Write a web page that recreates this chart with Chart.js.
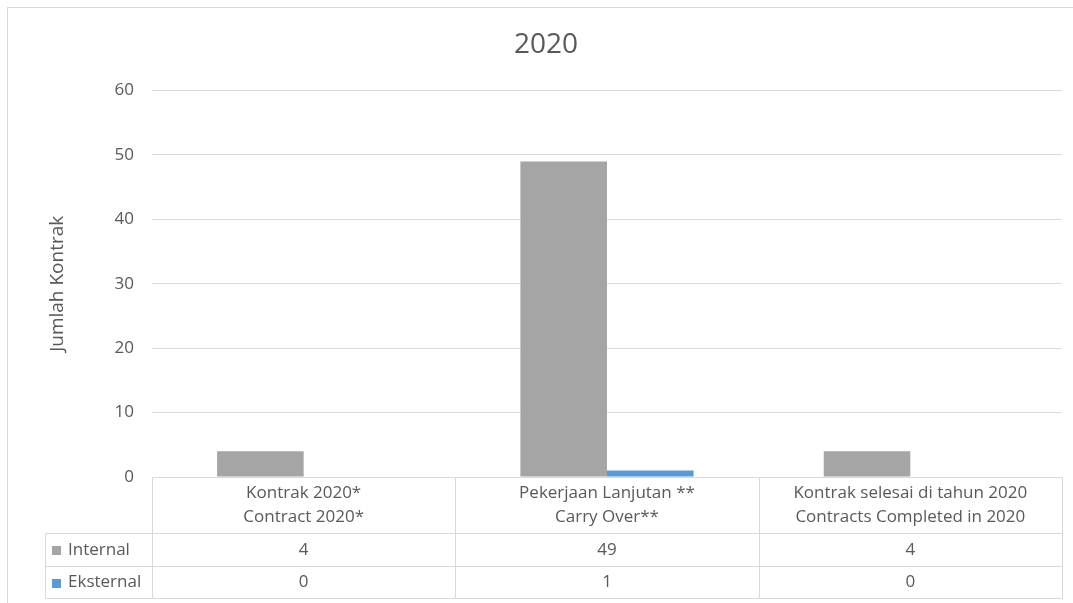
<!DOCTYPE html>
<html>
<head>
<meta charset="utf-8">
<script src="https://cdn.jsdelivr.net/npm/chart.js@4/dist/chart.umd.min.js"></script>
<style>
  html, body { margin: 0; padding: 0; background: #fff; }
  #wrap { width: 1073px; height: 603px; }
</style>
</head>
<body>
<div id="wrap"><canvas id="kontrakChart"></canvas></div>
<script>
const categories = [
  ["Kontrak 2020*", "Contract 2020*"],
  ["Pekerjaan Lanjutan **", "Carry Over**"],
  ["Kontrak selesai di tahun 2020", "Contracts Completed in 2020"],
];
const internalValues = [4, 49, 4];
const eksternalValues = [0, 1, 0];
const yTicks = [0, 10, 20, 30, 40, 50, 60];

const FONT = "'Open Sans', sans-serif";
const TEXT = "#595959";
const LINE = "#d9d9d9";

// data table under the plot, laid out from the x scale
const dataTablePlugin = {
  id: "dataTable",
  beforeDraw(chart) {
    const ctx = chart.ctx;
    ctx.save();
    ctx.strokeStyle = LINE;
    ctx.lineWidth = 1;
    ctx.strokeRect(7.5, 7.5, 1080, 620);
    ctx.restore();
  },
  afterDraw(chart) {
    const ctx = chart.ctx;
    const xs = chart.scales.x;
    const area = chart.chartArea;
    const top = Math.round(area.bottom) + 0.5;
    const headBottom = top + 56;
    const row1Bottom = headBottom + 33;
    const row2Bottom = row1Bottom + 32;
    const legendLeft = 45.5;
    const step = xs.getPixelForValue(1) - xs.getPixelForValue(0);
    const edges = [];
    for (let i = 0; i <= categories.length; i++) {
      edges.push(Math.round(xs.getPixelForValue(0) - step / 2 + i * step) + 0.5);
    }

    ctx.save();
    ctx.strokeStyle = LINE;
    ctx.lineWidth = 1;
    ctx.beginPath();
    ctx.moveTo(edges[0], top); ctx.lineTo(edges[edges.length - 1], top);
    [headBottom, row1Bottom, row2Bottom].forEach((y) => {
      ctx.moveTo(legendLeft, y); ctx.lineTo(edges[edges.length - 1], y);
    });
    edges.forEach((x) => { ctx.moveTo(x, top); ctx.lineTo(x, row2Bottom); });
    ctx.moveTo(legendLeft, headBottom); ctx.lineTo(legendLeft, row2Bottom);
    ctx.stroke();

    ctx.fillStyle = TEXT;
    ctx.font = "17px " + FONT;
    ctx.textAlign = "center";
    ctx.textBaseline = "middle";
    categories.forEach((lines, i) => {
      const cx = xs.getPixelForValue(i);
      ctx.fillText(lines[0], cx, top + 16);
      ctx.fillText(lines[1], cx, top + 40);
    });

    const rows = [
      { ds: chart.data.datasets[0], y: (headBottom + row1Bottom) / 2 },
      { ds: chart.data.datasets[1], y: (row1Bottom + row2Bottom) / 2 },
    ];
    rows.forEach((r) => {
      ctx.fillStyle = r.ds.backgroundColor;
      ctx.fillRect(52, Math.round(r.y) - 4, 9, 9);
      ctx.fillStyle = TEXT;
      ctx.textAlign = "left";
      ctx.fillText(r.ds.label, 68, r.y);
      ctx.textAlign = "center";
      r.ds.data.forEach((v, i) => {
        ctx.fillText(String(v), xs.getPixelForValue(i), r.y);
      });
    });
    ctx.restore();
  },
};

new Chart(document.getElementById("kontrakChart"), {
  type: "bar",
  data: {
    labels: categories,
    datasets: [
      { label: "Internal", data: internalValues, backgroundColor: "#a5a5a5" },
      { label: "Eksternal", data: eksternalValues, backgroundColor: "#5b9bd5" },
    ],
  },
  options: {
    responsive: true,
    maintainAspectRatio: false,
    animation: false,
    layout: { padding: { left: 30, right: 11, top: 0, bottom: 126 } },
    datasets: { bar: { categoryPercentage: 0.571, barPercentage: 1 } },
    plugins: {
      legend: { display: false },
      tooltip: { enabled: false },
      title: {
        display: true,
        text: "2020",
        color: TEXT,
        font: { family: FONT, size: 28, weight: "normal", lineHeight: 1.2 },
        padding: { top: 28, bottom: 29 },
      },
    },
    scales: {
      x: { display: false },
      y: {
        min: 0,
        max: 60,
        afterFit(scale) { scale.width = 122; },
        afterBuildTicks(scale) { scale.ticks = yTicks.map((v) => ({ value: v })); },
        border: { display: false },
        grid: { color: LINE, drawTicks: false },
        ticks: { color: TEXT, padding: 18, font: { family: FONT, size: 17 } },
        title: {
          display: true,
          text: "Jumlah Kontrak",
          color: TEXT,
          font: { family: FONT, size: 19 },
          padding: { top: 16, bottom: 0 },
        },
      },
    },
  },
  plugins: [dataTablePlugin],
});
</script>
</body>
</html>
